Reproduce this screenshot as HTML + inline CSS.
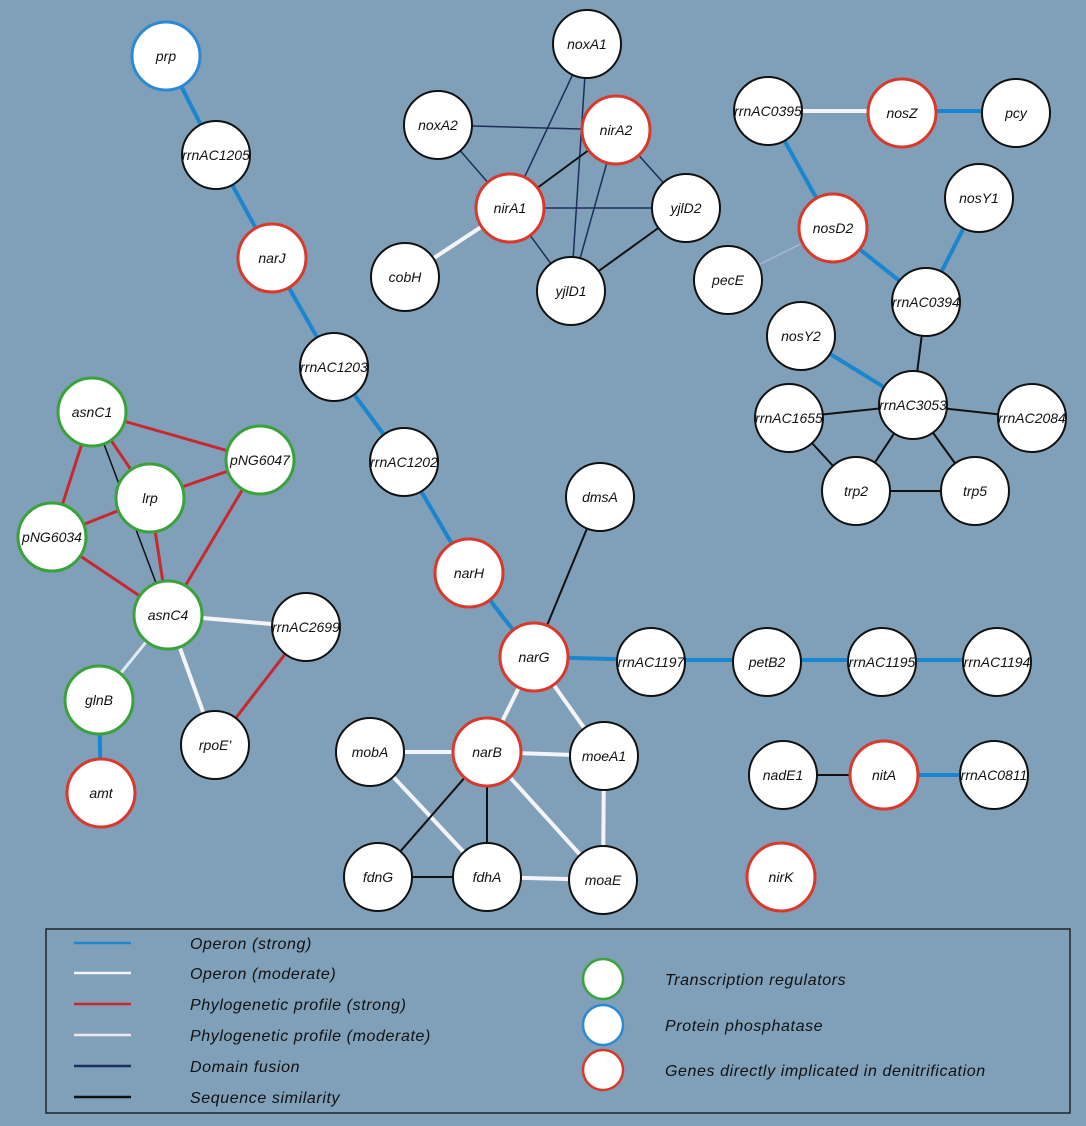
<!DOCTYPE html>
<html><head><meta charset="utf-8"><style>
html,body{margin:0;padding:0;background:#7fa0b8;}
svg{display:block;}
text{font-family:"Liberation Sans",sans-serif;font-style:italic;font-size:14px;fill:#111;}
.lg{font-size:16px;letter-spacing:0.6px;}
</style></head><body>
<svg width="1086" height="1126" viewBox="0 0 1086 1126" xmlns="http://www.w3.org/2000/svg">
<rect width="1086" height="1126" fill="#7fa0b8"/>
<g stroke-linecap="round">
<g stroke="#1a86d0" stroke-width="4">
<line x1="166" y1="56" x2="216" y2="155"/><line x1="216" y1="155" x2="272" y2="258"/>
<line x1="272" y1="258" x2="334" y2="367"/><line x1="334" y1="367" x2="404" y2="462"/>
<line x1="404" y1="462" x2="469" y2="573"/><line x1="469" y1="573" x2="534" y2="657"/>
<line x1="534" y1="657" x2="651" y2="660"/><line x1="651" y1="660" x2="767" y2="660"/>
<line x1="767" y1="660" x2="882" y2="660"/><line x1="882" y1="660" x2="997" y2="660"/>
<line x1="884" y1="775" x2="994" y2="775"/>
<line x1="902" y1="111" x2="1016" y2="111"/><line x1="768" y1="111" x2="833" y2="228"/>
<line x1="833" y1="228" x2="926" y2="302"/><line x1="979" y1="198" x2="926" y2="302"/>
<line x1="801" y1="336" x2="913" y2="405"/><line x1="99" y1="700" x2="101" y2="793"/>
</g>
<g stroke="#f4f4f8" stroke-width="4">
<line x1="768" y1="111" x2="902" y2="111"/><line x1="510" y1="208" x2="405" y2="277"/>
<line x1="168" y1="615" x2="306" y2="627"/><line x1="168" y1="615" x2="215" y2="745"/>
<line x1="534" y1="657" x2="487" y2="752"/><line x1="534" y1="657" x2="604" y2="756"/>
<line x1="487" y1="752" x2="370" y2="752"/><line x1="487" y1="752" x2="604" y2="756"/>
<line x1="487" y1="752" x2="603" y2="880"/><line x1="370" y1="752" x2="487" y2="877"/>
<line x1="487" y1="877" x2="603" y2="880"/><line x1="604" y1="756" x2="603" y2="880"/>
</g>
<line x1="168" y1="615" x2="99" y2="700" stroke="#dfeaf4" stroke-width="3"/>
<line x1="833" y1="228" x2="728" y2="280" stroke="#a9b7d6" stroke-width="1.5"/>
<g stroke="#c8282e" stroke-width="3">
<line x1="92" y1="412" x2="260" y2="460"/><line x1="92" y1="412" x2="150" y2="498"/>
<line x1="92" y1="412" x2="52" y2="537"/><line x1="150" y1="498" x2="260" y2="460"/>
<line x1="150" y1="498" x2="52" y2="537"/><line x1="150" y1="498" x2="168" y2="615"/>
<line x1="52" y1="537" x2="168" y2="615"/><line x1="260" y1="460" x2="168" y2="615"/>
<line x1="306" y1="627" x2="215" y2="745"/>
</g>
<line x1="92" y1="412" x2="168" y2="615" stroke="#111" stroke-width="1.5"/>
<g stroke="#1f2d5c" stroke-width="1.5">
<line x1="587" y1="44" x2="510" y2="208"/><line x1="587" y1="44" x2="571" y2="291"/>
<line x1="438" y1="125" x2="616" y2="130"/><line x1="438" y1="125" x2="510" y2="208"/>
<line x1="616" y1="130" x2="686" y2="208"/><line x1="616" y1="130" x2="571" y2="291"/>
<line x1="510" y1="208" x2="686" y2="208"/><line x1="510" y1="208" x2="571" y2="291"/>
</g>
<g stroke="#111" stroke-width="2">
<line x1="616" y1="130" x2="510" y2="208"/><line x1="571" y1="291" x2="686" y2="208"/>
<line x1="534" y1="657" x2="600" y2="497"/><line x1="487" y1="752" x2="487" y2="877"/>
<line x1="487" y1="752" x2="378" y2="877"/><line x1="378" y1="877" x2="487" y2="877"/>
<line x1="783" y1="775" x2="884" y2="775"/>
<line x1="926" y1="302" x2="913" y2="405"/><line x1="913" y1="405" x2="789" y2="418"/>
<line x1="913" y1="405" x2="1032" y2="418"/><line x1="913" y1="405" x2="856" y2="491"/>
<line x1="913" y1="405" x2="975" y2="491"/><line x1="789" y1="418" x2="856" y2="491"/>
<line x1="856" y1="491" x2="975" y2="491"/>
</g>
</g>
<g fill="#fff" stroke-width="3">
<g stroke="#111" stroke-width="2">
<circle cx="216" cy="155" r="34"/><circle cx="334" cy="367" r="34"/><circle cx="404" cy="462" r="34"/>
<circle cx="600" cy="497" r="34"/><circle cx="651" cy="662" r="34"/><circle cx="767" cy="662" r="34"/>
<circle cx="882" cy="662" r="34"/><circle cx="997" cy="662" r="34"/><circle cx="370" cy="752" r="34"/>
<circle cx="604" cy="756" r="34"/><circle cx="378" cy="877" r="34"/><circle cx="487" cy="877" r="34"/>
<circle cx="603" cy="880" r="34"/><circle cx="783" cy="775" r="34"/><circle cx="994" cy="775" r="34"/>
<circle cx="587" cy="44" r="34"/><circle cx="438" cy="125" r="34"/><circle cx="686" cy="208" r="34"/>
<circle cx="405" cy="277" r="34"/><circle cx="571" cy="291" r="34"/><circle cx="768" cy="111" r="34"/>
<circle cx="1016" cy="113" r="34"/><circle cx="979" cy="198" r="34"/><circle cx="728" cy="280" r="34"/>
<circle cx="926" cy="302" r="34"/><circle cx="801" cy="336" r="34"/><circle cx="913" cy="405" r="34"/>
<circle cx="789" cy="418" r="34"/><circle cx="1032" cy="418" r="34"/><circle cx="856" cy="491" r="34"/>
<circle cx="975" cy="491" r="34"/><circle cx="306" cy="627" r="34"/><circle cx="215" cy="745" r="34"/>
</g>
<g stroke="#d8392b">
<circle cx="272" cy="258" r="34"/><circle cx="469" cy="573" r="34"/><circle cx="534" cy="657" r="34"/>
<circle cx="487" cy="752" r="34"/><circle cx="884" cy="775" r="34"/><circle cx="781" cy="877" r="34"/>
<circle cx="616" cy="130" r="34"/><circle cx="510" cy="208" r="34"/><circle cx="902" cy="113" r="34"/>
<circle cx="833" cy="228" r="34"/><circle cx="101" cy="793" r="34"/>
</g>
<g stroke="#3aa23a">
<circle cx="92" cy="412" r="34"/><circle cx="260" cy="460" r="34"/><circle cx="150" cy="498" r="34"/>
<circle cx="52" cy="537" r="34"/><circle cx="168" cy="615" r="34"/><circle cx="99" cy="700" r="34"/>
</g>
<circle cx="166" cy="56" r="34" stroke="#2a8ad4"/>
</g>
<g text-anchor="middle">
<text x="166" y="61">prp</text><text x="216" y="160">rrnAC1205</text><text x="272" y="263">narJ</text>
<text x="334" y="372">rrnAC1203</text><text x="404" y="467">rrnAC1202</text><text x="469" y="578">narH</text>
<text x="534" y="662">narG</text><text x="600" y="502">dmsA</text><text x="651" y="667">rrnAC1197</text>
<text x="767" y="667">petB2</text><text x="882" y="667">rrnAC1195</text><text x="997" y="667">rrnAC1194</text>
<text x="487" y="757">narB</text><text x="370" y="757">mobA</text><text x="604" y="761">moeA1</text>
<text x="378" y="882">fdnG</text><text x="487" y="882">fdhA</text><text x="603" y="885">moaE</text>
<text x="783" y="780">nadE1</text><text x="884" y="780">nitA</text><text x="994" y="780">rrnAC0811</text>
<text x="781" y="882">nirK</text><text x="587" y="49">noxA1</text><text x="438" y="130">noxA2</text>
<text x="616" y="135">nirA2</text><text x="510" y="213">nirA1</text><text x="686" y="213">yjlD2</text>
<text x="405" y="282">cobH</text><text x="571" y="296">yjlD1</text><text x="768" y="116">rrnAC0395</text>
<text x="902" y="118">nosZ</text><text x="1016" y="118">pcy</text><text x="979" y="203">nosY1</text>
<text x="833" y="233">nosD2</text><text x="728" y="285">pecE</text><text x="926" y="307">rrnAC0394</text>
<text x="801" y="341">nosY2</text><text x="913" y="410">rrnAC3053</text><text x="789" y="423">rrnAC1655</text>
<text x="1032" y="423">rrnAC2084</text><text x="856" y="496">trp2</text><text x="975" y="496">trp5</text>
<text x="92" y="417">asnC1</text><text x="260" y="465">pNG6047</text><text x="150" y="503">lrp</text>
<text x="52" y="542">pNG6034</text><text x="168" y="620">asnC4</text><text x="306" y="632">rrnAC2699</text>
<text x="99" y="705">glnB</text><text x="215" y="750">rpoE'</text><text x="101" y="798">amt</text>
</g>
<rect x="46" y="929" width="1024" height="184" fill="none" stroke="#222" stroke-width="1.5"/>
<g stroke-width="2.5">
<line x1="74" y1="943" x2="131" y2="943" stroke="#1a86d0"/>
<line x1="74" y1="973" x2="131" y2="973" stroke="#f4f4f8"/>
<line x1="74" y1="1004" x2="131" y2="1004" stroke="#c8282e"/>
<line x1="74" y1="1035" x2="131" y2="1035" stroke="#f2e6ee"/>
<line x1="74" y1="1066" x2="131" y2="1066" stroke="#1f2d5c"/>
<line x1="74" y1="1097" x2="131" y2="1097" stroke="#111"/>
</g>
<text class="lg" x="190" y="949">Operon (strong)</text>
<text class="lg" x="190" y="979">Operon (moderate)</text>
<text class="lg" x="190" y="1010">Phylogenetic profile (strong)</text>
<text class="lg" x="190" y="1041">Phylogenetic profile (moderate)</text>
<text class="lg" x="190" y="1072">Domain fusion</text>
<text class="lg" x="190" y="1103">Sequence similarity</text>
<text class="lg" x="665" y="985">Transcription regulators</text>
<text class="lg" x="665" y="1031">Protein phosphatase</text>
<text class="lg" x="665" y="1076">Genes directly implicated in denitrification</text>
<g fill="#fff" stroke-width="2.5">
<circle cx="603" cy="979" r="20" stroke="#3aa23a"/>
<circle cx="603" cy="1025" r="20" stroke="#2a8ad4"/>
<circle cx="603" cy="1070" r="20" stroke="#d8392b"/>
</g>
</svg>
</body></html>
